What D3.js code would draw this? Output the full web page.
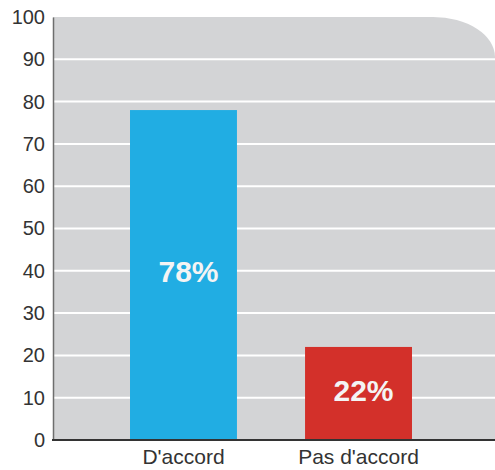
<!DOCTYPE html>
<html>
<head>
<meta charset="utf-8">
<script src="https://cdn.jsdelivr.net/npm/d3@7"></script>
<style>
  html, body { margin: 0; padding: 0; background: #ffffff; }
  svg { display: block; font-family: "Liberation Sans", Arial, Helvetica, sans-serif; }
</style>
</head>
<body>
<svg id="chart" width="495" height="470"></svg>
<script>
// Survey answers and their shares (percent)
const categories = ["D'accord", "Pas d'accord"];
const values = [78, 22];
const barColors = ["#21ade3", "#d3302a"];
const yTicks = [0, 10, 20, 30, 40, 50, 60, 70, 80, 90, 100];

const svg = d3.select("#chart");
const plotLeft = 53, plotRight = 495, plotTop = 17, plotBottom = 440;

const x = d3.scaleBand()
  .domain(categories)
  .range([plotLeft, 489])
  .paddingInner(0.389)
  .paddingOuter(0.44);

const y = d3.scaleLinear().domain([0, 100]).range([plotBottom, plotTop]);

// Grey plot panel with a rounded top-right corner
const rx = 62, ry = 40;
svg.append("path")
  .attr("d", `M${plotLeft},${plotBottom} L${plotLeft},${plotTop} L${plotRight - rx},${plotTop} ` +
             `A${rx},${ry} 0 0 1 ${plotRight},${plotTop + ry} L${plotRight},${plotBottom} Z`)
  .attr("fill", "#d3d4d6");

// White horizontal gridlines
svg.append("g")
  .selectAll("line")
  .data(yTicks.filter(t => t > 0 && t < 100))
  .join("line")
  .attr("x1", plotLeft).attr("x2", plotRight)
  .attr("y1", d => y(d)).attr("y2", d => y(d))
  .attr("stroke", "#ffffff")
  .attr("stroke-width", 2);

// Bars
svg.append("g")
  .selectAll("rect")
  .data(categories)
  .join("rect")
  .attr("x", d => x(d))
  .attr("y", (d, i) => y(values[i]))
  .attr("width", x.bandwidth())
  .attr("height", (d, i) => y(0) - y(values[i]))
  .attr("fill", (d, i) => barColors[i]);

// Value labels inside bars
svg.append("g")
  .selectAll("text")
  .data(categories)
  .join("text")
  .attr("x", d => x(d) + x.bandwidth() / 2 + 5)
  .attr("y", (d, i) => (y(values[i]) + y(0)) / 2)
  .attr("dy", "0.24em")
  .attr("text-anchor", "middle")
  .attr("fill", "#f4f4f4")
  .attr("font-size", 30)
  .attr("font-weight", "bold")
  .text((d, i) => values[i] + "%");

// Y axis
const yAxis = svg.append("g")
  .attr("transform", `translate(${plotLeft},0)`)
  .call(d3.axisLeft(y).tickValues(yTicks).tickSize(0).tickPadding(8));
yAxis.select(".domain").attr("stroke", "#6e6e6e").attr("stroke-width", 1.5);
yAxis.selectAll("text")
  .attr("font-size", 20)
  .attr("fill", "#333333")
  .attr("font-family", "Liberation Sans, Arial, sans-serif");

// X axis
const xAxis = svg.append("g")
  .attr("transform", `translate(0,${plotBottom})`)
  .call(d3.axisBottom(x).tickSize(0).tickPadding(9));
xAxis.select(".domain").remove();
xAxis.append("line")
  .attr("x1", plotLeft - 1).attr("x2", plotRight)
  .attr("y1", 0).attr("y2", 0)
  .attr("stroke", "#333333")
  .attr("stroke-width", 2);
xAxis.selectAll("text")
  .attr("font-size", 21)
  .attr("fill", "#333333")
  .attr("font-family", "Liberation Sans, Arial, sans-serif");
</script>
</body>
</html>
